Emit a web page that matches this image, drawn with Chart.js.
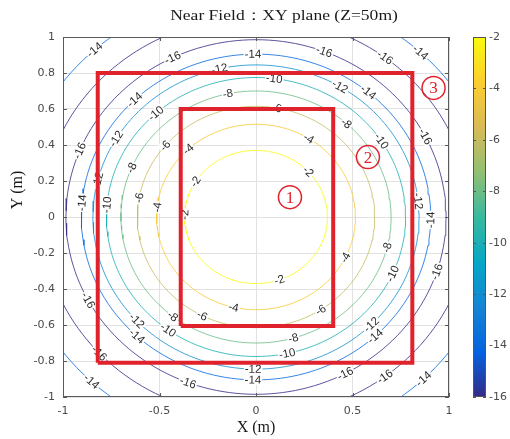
<!DOCTYPE html>
<html>
<head>
<meta charset="utf-8">
<script src="https://cdn.jsdelivr.net/npm/chart.js@4.4.1/dist/chart.umd.min.js"></script>
<style>
  html, body { margin: 0; padding: 0; background: #fff; }
  #wrap { width: 510px; height: 439px; }
</style>
</head>
<body>
<div id="wrap"><canvas id="nearFieldChart"></canvas></div>
<script>
// contour levels (dB) and their radius (m)
const levels = [-2, -4, -6, -8, -10, -12, -14, -16, -16, -14];
const radii = [0.37, 0.515, 0.615, 0.70, 0.775, 0.845, 0.905, 0.985, 1.11, 1.25];
// where the inline labels sit on each contour (deg, from +x)
const labelAngles = [
    [148, 178, 43, -71],
    [133, 174, 58, -26, -103],
    [80, 140, 170, -57, -117],
    [102, 157, 48, -14, -74, -128],
    [83, 132, 175, 33, -24, -78, -126],
    [103, 149, 166, 59, 6, -45, -91, -137],
    [91, 134, 175, 50, -1, -47, -91, -133],
    [116, 158, 69, 27, -18, -62, -111, -152],
    [53, -53, -137],
    [132, 47, -46, -133]
];

const xTicks = [-1, -0.5, 0, 0.5, 1];
const yTicks = [-1, -0.8, -0.6, -0.4, -0.2, 0, 0.2, 0.4, 0.6, 0.8, 1];
const cbTicks = [-2, -4, -6, -8, -10, -12, -14, -16];

// red zones: [x0, x1] and [y0, y1]
const zoneX = [[-0.39, 0.40], [-0.82, 0.81]];
const zoneY = [[-0.605, 0.60], [-0.81, 0.80]];

const markerX = [0.176, 0.58, 0.92];
const markerY = [0.11, 0.333, 0.717];
const markerText = ['1', '2', '3'];

const parula = ['#352a87', '#0363e1', '#1485d4', '#06a7c6', '#38b99e', '#92bf73', '#d9ba56', '#fcce2e', '#f9fb0e'];
const RED = '#e0222d';
const tickFont = { family: 'DejaVu Sans', size: 11 };

function hexRgb(h) {
    return [parseInt(h.slice(1, 3), 16), parseInt(h.slice(3, 5), 16), parseInt(h.slice(5, 7), 16)];
}
function levelColor(lv, alpha) {
    var t = (lv + 16) / 14 * (parula.length - 1);
    var i = Math.min(Math.floor(t), parula.length - 2);
    var f = t - i;
    var a = hexRgb(parula[i]), b = hexRgb(parula[i + 1]);
    var c = a.map((v, k) => Math.round(v + (b[k] - v) * f));
    return 'rgba(' + c.join(',') + ',' + alpha + ')';
}

var datasets = [];

// numbered markers
datasets.push({
    role: 'marker',
    data: markerX.map((x, i) => ({ x: x, y: markerY[i] })),
    pointStyle: 'circle',
    pointRadius: 11.5,
    pointBorderWidth: 1.5,
    pointBorderColor: RED,
    pointBackgroundColor: 'rgba(255,255,255,0)',
    showLine: false,
    order: 0
});

// red rectangles
zoneX.forEach(function (zx, i) {
    var zy = zoneY[i];
    datasets.push({
        role: 'zone',
        data: [
            { x: zx[0], y: zy[0] }, { x: zx[1], y: zy[0] },
            { x: zx[1], y: zy[1] }, { x: zx[0], y: zy[1] },
            { x: zx[0], y: zy[0] }
        ],
        showLine: true,
        borderColor: RED,
        borderWidth: 4,
        borderJoinStyle: 'miter',
        pointRadius: 0,
        order: 1
    });
});

// contour lines
levels.forEach(function (lv, i) {
    var pts = [];
    for (var a = 0; a <= 360; a += 2) {
        var rad = a * Math.PI / 180;
        pts.push({ x: radii[i] * Math.cos(rad), y: radii[i] * Math.sin(rad) });
    }
    datasets.push({
        role: 'contour',
        data: pts,
        showLine: true,
        borderColor: levelColor(lv, 0.8),
        borderWidth: 1,
        pointRadius: 0,
        order: 2
    });
});

const decorations = {
    id: 'decorations',
    beforeDatasetsDraw(chart) {
        this._labelsDone = false;
    },
    beforeDatasetDraw(chart, args) {
        if (this._labelsDone || chart.data.datasets[args.index].role !== 'zone') return;
        this._labelsDone = true;
        var ctx = chart.ctx, xs = chart.scales.x, ys = chart.scales.y;
        var sx = xs.getPixelForValue(1) - xs.getPixelForValue(0);
        var sy = ys.getPixelForValue(0) - ys.getPixelForValue(1);
        ctx.save();
        var ca = chart.chartArea;
        ctx.beginPath();
        ctx.rect(ca.left, ca.top, ca.right - ca.left, ca.bottom - ca.top);
        ctx.clip();
        ctx.font = '11.5px "Liberation Sans"';
        ctx.textAlign = 'center';
        ctx.textBaseline = 'middle';
        labelAngles.forEach(function (angs, i) {
            var r = radii[i], txt = String(levels[i]);
            var w = ctx.measureText(txt).width;
            angs.forEach(function (deg) {
                var t = deg * Math.PI / 180;
                var px = xs.getPixelForValue(r * Math.cos(t));
                var py = ys.getPixelForValue(r * Math.sin(t));
                var rot = Math.atan2(-r * Math.cos(t) * sy, -r * Math.sin(t) * sx);
                if (rot > Math.PI / 2) rot -= Math.PI;
                if (rot < -Math.PI / 2) rot += Math.PI;
                ctx.save();
                ctx.translate(px, py);
                ctx.rotate(rot);
                ctx.fillStyle = '#fff';
                ctx.fillRect(-w / 2 - 1, -5, w + 2, 10);
                ctx.fillStyle = '#2b2b2b';
                ctx.fillText(txt, 0, 0.5);
                ctx.restore();
            });
        });
        ctx.restore();
    },
    afterDatasetsDraw(chart) {
        var ctx = chart.ctx, ca = chart.chartArea;
        var xs = chart.scales.x, ys = chart.scales.y, cb = chart.scales.cb;
        ctx.save();
        // axes box with inward ticks
        ctx.strokeStyle = '#5a5a5a';
        ctx.lineWidth = 1;
        ctx.strokeRect(ca.left + 0.5, ca.top + 0.5, ca.right - ca.left - 1, ca.bottom - ca.top - 1);
        ctx.beginPath();
        xTicks.forEach(function (v) {
            var p = Math.round(xs.getPixelForValue(v)) + 0.5;
            ctx.moveTo(p, ca.bottom); ctx.lineTo(p, ca.bottom - 4);
            ctx.moveTo(p, ca.top); ctx.lineTo(p, ca.top + 4);
        });
        yTicks.forEach(function (v) {
            var p = Math.round(ys.getPixelForValue(v)) + 0.5;
            ctx.moveTo(ca.left, p); ctx.lineTo(ca.left + 4, p);
            ctx.moveTo(ca.right, p); ctx.lineTo(ca.right - 4, p);
        });
        ctx.stroke();

        // marker digits
        ctx.fillStyle = RED;
        ctx.font = '17px "Liberation Serif"';
        ctx.textAlign = 'center';
        ctx.textBaseline = 'middle';
        markerText.forEach(function (s, i) {
            ctx.fillText(s, xs.getPixelForValue(markerX[i]), ys.getPixelForValue(markerY[i]) + 1);
        });

        // colour bar
        var top = cb.getPixelForValue(cbTicks[0]);
        var bot = cb.getPixelForValue(cbTicks[cbTicks.length - 1]);
        var left = 473, right = 486;
        var g = ctx.createLinearGradient(0, bot, 0, top);
        parula.forEach(function (c, i) { g.addColorStop(i / (parula.length - 1), c); });
        ctx.fillStyle = g;
        ctx.fillRect(left, top, right - left, bot - top);
        ctx.strokeStyle = '#555';
        ctx.strokeRect(left + 0.5, top + 0.5, right - left - 1, bot - top - 1);
        ctx.beginPath();
        cbTicks.forEach(function (v) {
            var p = Math.round(cb.getPixelForValue(v)) + 0.5;
            ctx.moveTo(left, p); ctx.lineTo(left + 3, p);
            ctx.moveTo(right, p); ctx.lineTo(right - 3, p);
        });
        ctx.stroke();

        // titles
        ctx.fillStyle = '#1a1a1a';
        ctx.font = '15px "Liberation Serif"';
        ctx.save();
        ctx.translate(284, 16);
        ctx.scale(1.17, 1);
        ctx.fillText('Near Field：XY plane (Z=50m)', 0, 0);
        ctx.restore();
        ctx.font = '16px "Liberation Serif"';
        ctx.translate(18, 190);
        ctx.rotate(-Math.PI / 2);
        ctx.fillText('Y (m)', 0, 0);
        ctx.restore();
    }
};

new Chart(document.getElementById('nearFieldChart'), {
    type: 'scatter',
    data: { datasets: datasets },
    plugins: [decorations],
    options: {
        responsive: true,
        maintainAspectRatio: false,
        animation: false,
        events: [],
        layout: { padding: { top: 37, left: 0, right: 0, bottom: 0 } },
        plugins: {
            legend: { display: false },
            title: { display: false },
            tooltip: { enabled: false }
        },
        scales: {
            x: {
                type: 'linear',
                min: -1, max: 1,
                afterBuildTicks: s => { s.ticks = xTicks.map(v => ({ value: v })); },
                afterFit: s => { s.height = 42; },
                grid: { color: '#e2e2e2', drawTicks: false },
                border: { display: false },
                ticks: { font: tickFont, color: '#4a4a4a', padding: 8, maxRotation: 0, callback: v => String(v) },
                title: {
                    display: true, text: 'X (m)', color: '#1a1a1a',
                    font: { family: 'Liberation Serif', size: 16 },
                    padding: { top: 0, bottom: 2 }
                }
            },
            y: {
                type: 'linear',
                min: -1, max: 1,
                afterBuildTicks: s => { s.ticks = yTicks.map(v => ({ value: v })); },
                afterFit: s => { s.width = 63; },
                grid: { color: '#e2e2e2', drawTicks: false },
                border: { display: false },
                ticks: { font: tickFont, color: '#4a4a4a', padding: 8, callback: v => String(v) }
            },
            cb: {
                type: 'linear',
                position: 'right',
                min: -16, max: -2,
                afterBuildTicks: s => { s.ticks = cbTicks.map(v => ({ value: v })); },
                afterFit: s => { s.width = 61; },
                // invisible tick marks push the labels out past the colour bar
                grid: { display: false, drawTicks: true, tickLength: 36 },
                border: { display: false },
                ticks: { font: tickFont, color: '#4a4a4a', padding: 4, callback: v => String(v) }
            }
        }
    }
});
</script>
</body>
</html>
